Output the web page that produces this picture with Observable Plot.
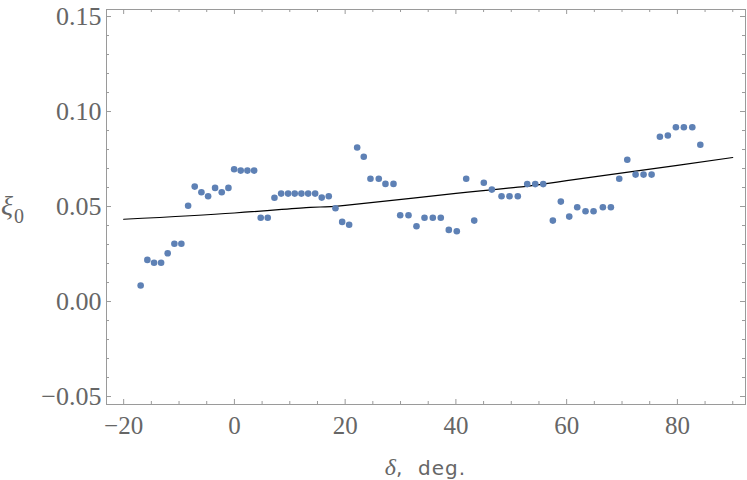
<!DOCTYPE html>
<html>
<head>
<meta charset="utf-8">
<script src="https://cdn.jsdelivr.net/npm/d3@7"></script>
<script src="https://cdn.jsdelivr.net/npm/@observablehq/plot@0.6"></script>
<style>
  html, body { margin: 0; padding: 0; background: #fff; }
  #chart { width: 747px; height: 480px; }
</style>
</head>
<body>
<div id="chart"></div>
<script>
// Data
const delta = [-16.93,-15.72,-14.51,-13.24,-12.05,-10.84,-9.58,-8.36,-7.17,-5.96,-4.75,-3.49,-2.29,-1.08,-0.05,1.14,2.35,3.56,4.75,6.02,7.23,8.44,9.70,10.89,12.10,13.32,14.58,15.77,17.04,18.25,19.46,20.72,22.17,23.36,24.57,26.07,27.28,28.73,29.94,31.44,32.88,34.33,35.83,37.27,38.72,40.16,41.86,43.31,45.04,46.49,48.24,49.68,51.18,52.88,54.33,55.77,57.51,58.95,60.47,61.91,63.41,64.86,66.54,67.99,69.50,70.95,72.45,73.89,75.34,76.84,78.28,79.73,81.17,82.69,84.14];
const xi0 = [0.0084,0.0219,0.0204,0.0204,0.0254,0.0304,0.0304,0.0504,0.0605,0.0575,0.0554,0.0598,0.0575,0.0598,0.0696,0.0689,0.0689,0.0689,0.0441,0.0441,0.0546,0.0568,0.0568,0.0568,0.0568,0.0568,0.0568,0.0547,0.0554,0.0491,0.0419,0.0404,0.0811,0.0762,0.0646,0.0646,0.0619,0.0619,0.0454,0.0454,0.0396,0.0441,0.0441,0.0441,0.0377,0.0370,0.0646,0.0426,0.0625,0.0589,0.0554,0.0554,0.0554,0.0618,0.0618,0.0618,0.0426,0.0526,0.0447,0.0496,0.0475,0.0475,0.0496,0.0496,0.0646,0.0746,0.0668,0.0668,0.0668,0.0867,0.0874,0.0917,0.0917,0.0917,0.0825];
// fitted curve
const fitDelta = [-20, 0, 13.7, 20, 40, 52.3, 60, 80, 90];
const fitXi = [0.0433, 0.0466, 0.0496, 0.0506, 0.0569, 0.0605, 0.0636, 0.0717, 0.0758];
// ticks
const xMajor = [-20, 0, 20, 40, 60, 80];
const xMinor = [-15, -10, -5, 5, 10, 15, 25, 30, 35, 45, 50, 55, 65, 70, 75, 85, 90];
const yMajor = [-0.05, 0, 0.05, 0.10, 0.15];
const yMinor = [-0.04,-0.03,-0.02,-0.01,0.01,0.02,0.03,0.04,0.06,0.07,0.08,0.09,0.11,0.12,0.13,0.14];

const points = delta.map((d, i) => ({delta: d, xi: xi0[i]}));
const fit = fitDelta.map((d, i) => ({delta: d, xi: fitXi[i]}));

const W = 747, H = 480, mL = 106, mR = 2, mT = 9, mB = 76;
const innerH = H - mT - mB, innerW = W - mL - mR;
const tickCol = "#9a9a9a";
const majLen = 5, minLen = 3;

const plot = Plot.plot({
  width: W, height: H,
  marginLeft: mL, marginRight: mR, marginTop: mT, marginBottom: mB,
  x: {domain: [-23.1, 92.3]},
  y: {domain: [-0.0542, 0.1537]},
  style: {background: "#fff", overflow: "visible"},
  marks: [
    Plot.frame({stroke: tickCol, strokeWidth: 1}),
    // x ticks bottom/top
    Plot.ruleX(xMajor, {x: d => d, insetTop: innerH - majLen, stroke: tickCol}),
    Plot.ruleX(xMinor, {x: d => d, insetTop: innerH - minLen, stroke: tickCol}),
    Plot.ruleX(xMajor, {x: d => d, insetBottom: innerH - majLen, stroke: tickCol}),
    Plot.ruleX(xMinor, {x: d => d, insetBottom: innerH - minLen, stroke: tickCol}),
    // y ticks left/right
    Plot.ruleY(yMajor, {y: d => d, insetRight: innerW - majLen, stroke: tickCol}),
    Plot.ruleY(yMinor, {y: d => d, insetRight: innerW - minLen, stroke: tickCol}),
    Plot.ruleY(yMajor, {y: d => d, insetLeft: innerW - majLen, stroke: tickCol}),
    Plot.ruleY(yMinor, {y: d => d, insetLeft: innerW - minLen, stroke: tickCol}),
    Plot.axisX(xMajor, {tickSize: 0, tickPadding: 12, tickFormat: d3.format("d"), fontSize: 25, fontFamily: "Liberation Serif", fill: "#666", label: null}),
    Plot.axisY(yMajor, {tickSize: 0, tickPadding: 5, tickFormat: d3.format(".2f"), fontSize: 26, fontFamily: "Liberation Serif", fill: "#666", label: null}),
    Plot.line(fit, {x: "delta", y: "xi", curve: "natural", stroke: "#000", strokeWidth: 1.2}),
    Plot.dot(points, {x: "delta", y: "xi", r: 3.3, fill: "#5E81B5", stroke: "none"})
  ]
});

document.getElementById("chart").appendChild(plot);

// axis labels with mixed fonts
const svg = d3.select(plot);
const xl = svg.append("text")
  .attr("x", (mL + W - mR) / 2)
  .attr("y", 475)
  .attr("text-anchor", "middle")
  .attr("fill", "#666");
xl.append("tspan").attr("font-family", "Liberation Serif").attr("font-style", "italic").attr("font-size", 24).text("δ");
xl.append("tspan").attr("font-family", "DejaVu Sans").attr("font-size", 20).attr("letter-spacing", 1).text(",  deg.");

const yl = svg.append("text")
  .attr("x", 1)
  .attr("y", 215)
  .attr("text-anchor", "start")
  .attr("fill", "#666");
yl.append("tspan").attr("font-family", "Liberation Serif").attr("font-style", "italic").attr("font-size", 28).text("ξ");
yl.append("tspan").attr("font-family", "Liberation Serif").attr("font-size", 20).attr("dx", 1).attr("dy", 8).text("0");
</script>
</body>
</html>
